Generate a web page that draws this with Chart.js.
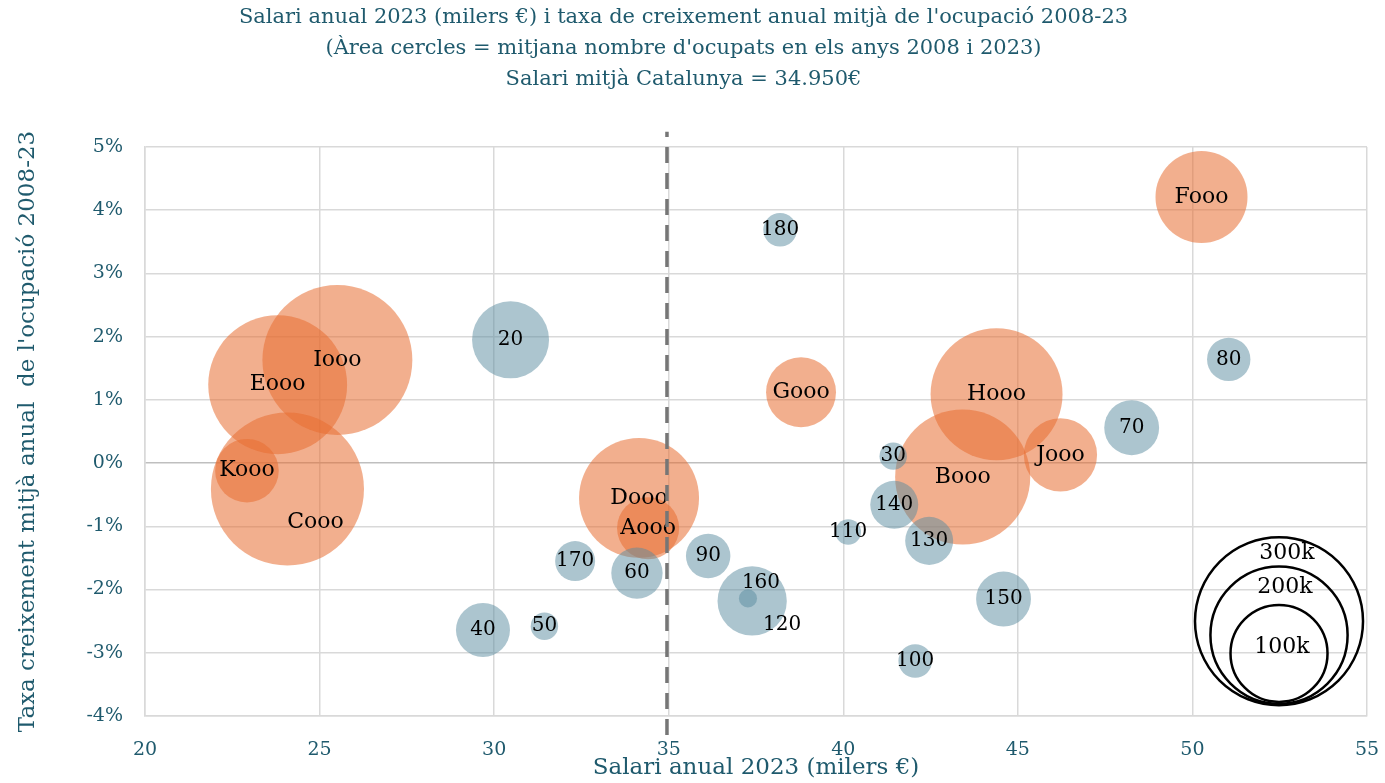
<!DOCTYPE html>
<html lang="ca">
<head>
    <meta charset="UTF-8">
    <title>Salari i ocupació 2008-23</title>
    <script src="https://cdn.jsdelivr.net/npm/chart.js"></script>
    <style>
        body { margin: 0; background: #ffffff; }
        #wrap { width: 1385px; height: 783px; }
    </style>
</head>
<body>
    <div id="wrap"><canvas id="myChart" width="1385" height="783"></canvas></div>
    <script>
        // sectors with positive/negative framing (orange) and the numbered sectors (blue)
        const orangeLabels = ['Aooo', 'Booo', 'Cooo', 'Dooo', 'Eooo', 'Fooo', 'Gooo', 'Hooo', 'Iooo', 'Jooo', 'Kooo'];
        const orangeSalary = [34.41, 43.42, 24.08, 34.15, 23.80, 50.26, 38.79, 44.39, 25.51, 46.22, 22.92];
        const orangeGrowth = [-1.03, -0.22, -0.41, -0.55, 1.24, 4.21, 1.12, 1.09, 1.63, 0.13, -0.12];
        const orangeEmployed = [41, 194, 249, 153, 205, 90, 52, 185, 239, 57, 43];

        const blueLabels = ['20', '30', '40', '50', '60', '70', '80', '90', '100', '110', '120', '130', '140', '150', '160', '170', '180'];
        const blueSalary = [30.47, 41.43, 29.68, 31.44, 34.09, 48.26, 51.04, 36.13, 42.06, 40.14, 37.39, 42.46, 41.46, 44.59, 37.27, 32.32, 38.19];
        const blueGrowth = [1.95, 0.11, -2.64, -2.58, -1.74, 0.56, 1.64, -1.47, -3.13, -1.09, -2.18, -1.23, -0.66, -2.15, -2.14, -1.55, 3.69];
        const blueEmployed = [63, 8, 31, 8, 28, 32, 20, 21, 12, 7, 51, 24.5, 24.5, 32, 3.5, 17, 12];

        // size legend (thousands of employed)
        const legendLabels = ['300k', '200k', '100k'];
        const legendValues = [300, 200, 100];
        const legendSalary = [52.48, 52.48, 52.48];
        const legendGrowth = [-2.50, -2.72, -3.01];

        const averageSalary = 34.95;
        const xTicks = [20, 25, 30, 35, 40, 45, 50, 55];

        const serif = "'DejaVu Serif', serif";
        const teal = '#1f5a6d';

        const radiusFor = v => 48.5 * Math.sqrt(v / 100);

        function points(xs, ys, vs) {
            return xs.map((x, i) => ({ x: x, y: ys[i], r: radiusFor(vs[i]) }));
        }

        // a few labels were moved off-centre in the original
        const labelShift = {
            'Cooo': [28, 33],
            '120': [30, 24],
            '160': [13, -16],
            '300k': [8, -68],
            '200k': [6, -48],
            '100k': [3, -6]
        };

        const bubbleLabels = {
            id: 'bubbleLabels',
            afterDatasetDraw(chart, args) {
                if (args.index !== 1) return;
                const ctx = chart.ctx;
                ctx.save();
                ctx.fillStyle = '#000000';
                ctx.textAlign = 'center';
                ctx.textBaseline = 'middle';
                [0, 1, 2].forEach(di => {
                    const ds = chart.data.datasets[di];
                    const meta = chart.getDatasetMeta(di);
                    meta.data.forEach((el, i) => {
                        const txt = ds.labels[i];
                        const s = labelShift[txt] || [0, 0];
                        ctx.font = (/^\d+$/.test(txt) ? '20px ' : '22px ') + serif;
                        ctx.fillText(txt, el.x + s[0], el.y + s[1]);
                    });
                });
                ctx.restore();
            }
        };

        const ctx = document.getElementById('myChart').getContext('2d');
        const myChart = new Chart(ctx, {
            type: 'bubble',
            data: {
                datasets: [
                    {
                        label: 'Orange',
                        labels: orangeLabels,
                        data: points(orangeSalary, orangeGrowth, orangeEmployed),
                        backgroundColor: 'rgba(232, 110, 50, 0.55)',
                        borderWidth: 0,
                        order: 2
                    },
                    {
                        label: 'Blue',
                        labels: blueLabels,
                        data: points(blueSalary, blueGrowth, blueEmployed),
                        backgroundColor: 'rgba(90, 140, 160, 0.5)',
                        borderWidth: 0,
                        order: 1
                    },
                    {
                        label: 'Size',
                        labels: legendLabels,
                        data: points(legendSalary, legendGrowth, legendValues),
                        backgroundColor: 'rgba(0,0,0,0)',
                        borderColor: '#000000',
                        borderWidth: 2.5,
                        order: 3
                    },
                    {
                        type: 'line',
                        label: 'Salari mitjà',
                        data: [{ x: averageSalary, y: -4.3 }, { x: averageSalary, y: 5.24 }],
                        borderColor: '#767676',
                        borderWidth: 3.5,
                        borderDash: [16, 10],
                        pointRadius: 0,
                        clip: false,
                        order: 0
                    }
                ]
            },
            options: {
                responsive: false,
                animation: false,
                events: [],
                layout: { autoPadding: false, padding: { left: 0, right: 18, top: 0, bottom: 0 } },
                plugins: {
                    legend: { display: false },
                    tooltip: { enabled: false },
                    title: {
                        display: true,
                        text: [
                            "Salari anual 2023 (milers €) i taxa de creixement anual mitjà de l'ocupació 2008-23",
                            "(Àrea cercles = mitjana nombre d'ocupats en els anys 2008 i 2023)",
                            'Salari mitjà Catalunya = 34.950€'
                        ],
                        color: teal,
                        font: { family: serif, size: 21, weight: 'normal', lineHeight: 1.476 },
                        padding: { top: 2, bottom: 52 }
                    }
                },
                scales: {
                    x: {
                        type: 'linear',
                        min: 20,
                        max: 55,
                        afterFit: s => { s.height = 67; s.paddingLeft = 0; s.paddingRight = 0; },
                        afterBuildTicks: s => { s.ticks = xTicks.map(v => ({ value: v })); },
                        grid: { color: '#d9d9d9', lineWidth: 1.5, drawTicks: false },
                        border: { color: '#d9d9d9', width: 1.5 },
                        ticks: { color: teal, padding: 23, font: { family: serif, size: 19 } },
                        title: {
                            display: true,
                            text: 'Salari anual 2023 (milers €)',
                            color: teal,
                            font: { family: serif, size: 23 },
                            padding: { top: 0, bottom: 1 }
                        }
                    },
                    y: {
                        min: -4,
                        max: 5,
                        afterFit: s => { s.width = 145; s.paddingTop = 0; s.paddingBottom = 0; },
                        grid: {
                            color: c => c.tick && c.tick.value === 0 ? '#bfbfbf' : '#d9d9d9',
                            lineWidth: 1.5,
                            drawTicks: false
                        },
                        border: { color: '#d9d9d9', width: 1.5 },
                        ticks: {
                            stepSize: 1,
                            color: teal,
                            padding: 22,
                            font: { family: serif, size: 19 },
                            callback: v => v + '%'
                        },
                        title: {
                            display: true,
                            text: "Taxa creixement mitjà anual  de l'ocupació 2008-23",
                            color: teal,
                            font: { family: serif, size: 23 },
                            padding: { top: 14, bottom: 0 }
                        }
                    }
                }
            },
            plugins: [bubbleLabels]
        });
    </script>
</body>
</html>
